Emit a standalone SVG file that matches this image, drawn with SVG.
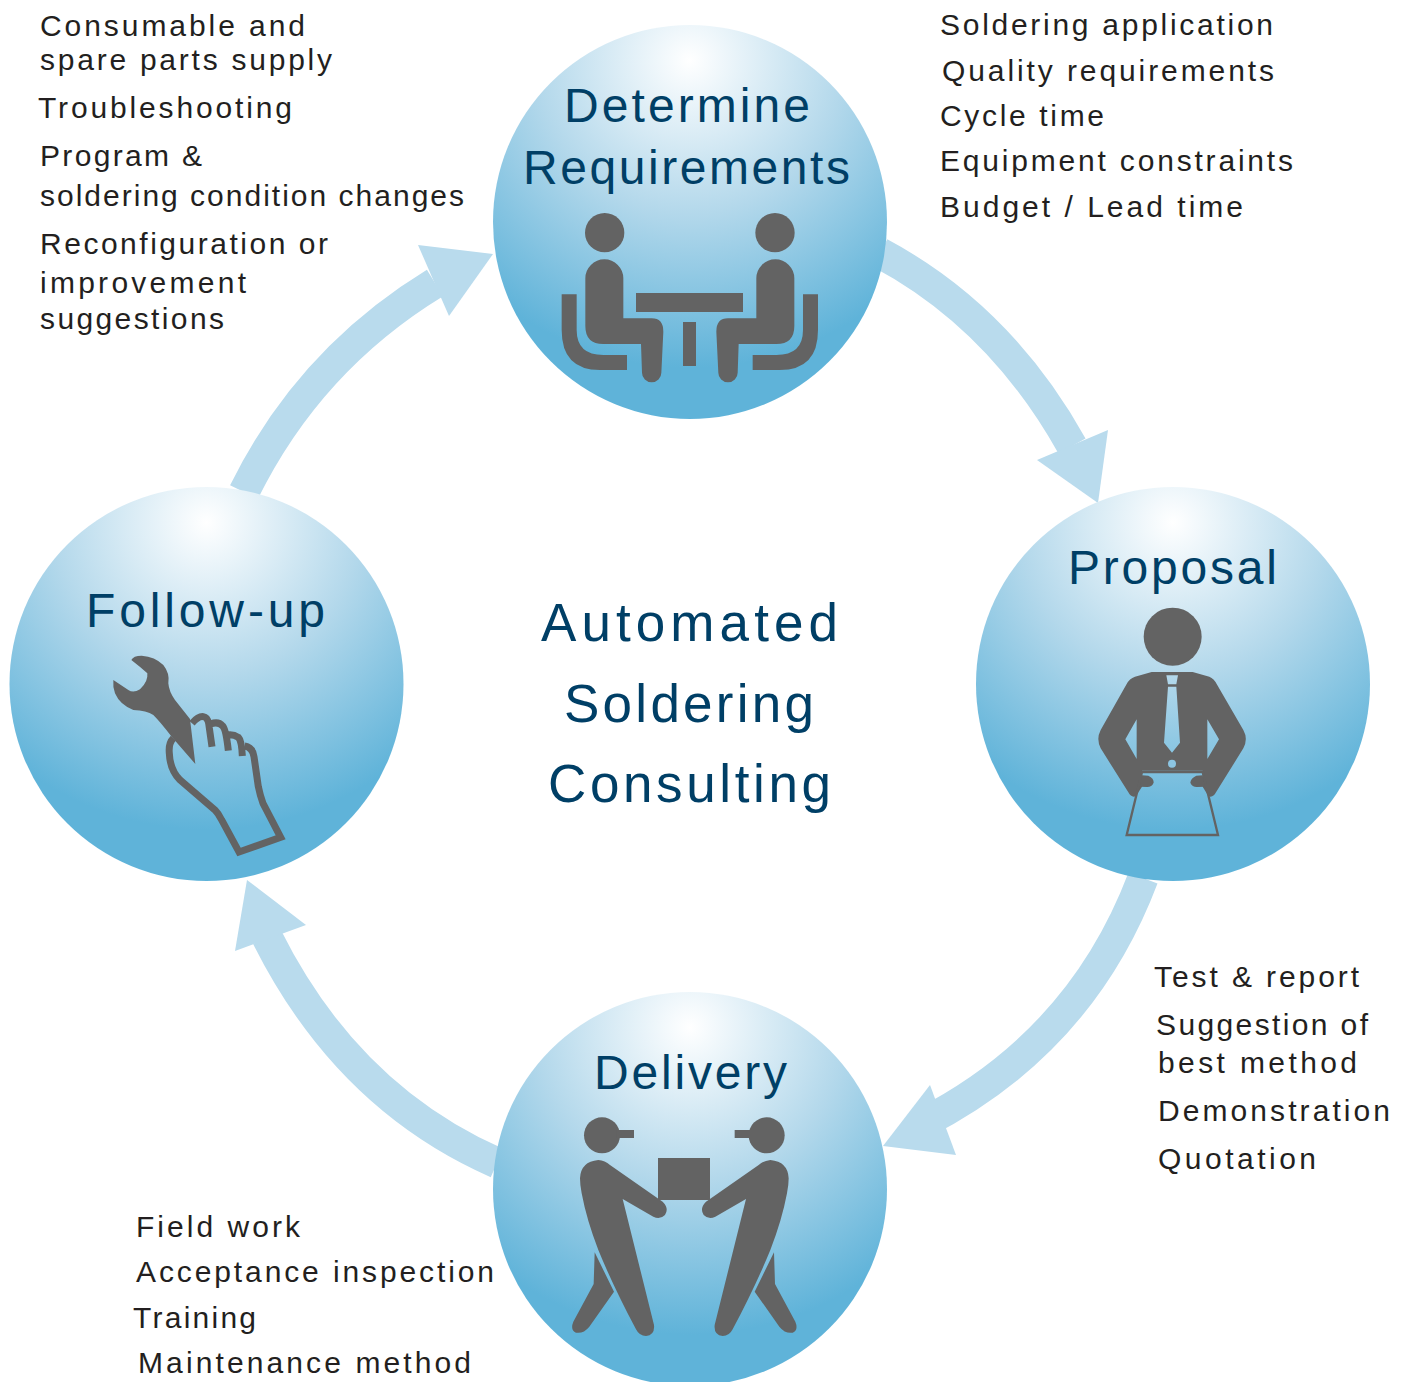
<svg xmlns="http://www.w3.org/2000/svg" xmlns:xlink="http://www.w3.org/1999/xlink" width="1406" height="1382" viewBox="0 0 1406 1382">
<style>
text{font-family:"Liberation Sans",Arial,sans-serif}
.s{font-size:30px;fill:#231f20}
.t{font-size:48px;fill:#003f66}
.c{font-size:53px;fill:#003f66}
.band{fill:none;stroke:#b9dbed;stroke-width:31}
.head{fill:#b9dbed}
.ball{fill:url(#g)}
.i{fill:#636363}
.l{fill:none;stroke:#636363}
</style>
<defs>
<radialGradient id="g" cx=".5" cy=".09" r=".78">
<stop offset="0" stop-color="#ffffff"/>
<stop offset=".5" stop-color="#b3d8eb"/>
<stop offset="1" stop-color="#5fb3d9"/>
</radialGradient>
</defs>
<rect width="1406" height="1382" fill="#fff"/>
<g id="connectors">
<path class="band" d="M880 253Q1000 317 1072 446"/><polygon class="head" points="1098,503 1108,430 1037,460"/>
<path class="band" d="M1143 878Q1081 1042 923 1123"/><polygon class="head" points="883,1146 930,1085 956,1155"/>
<path class="band" d="M497 1163Q347 1097 267 937"/><polygon class="head" points="247,880 306,925 235,951"/>
<path class="band" d="M244 492Q309 360 435 283"/><polygon class="head" points="493,254 418,245 449,316"/>
</g>
<g id="determine">
<circle class="ball" cx="690" cy="222" r="197"/>
<text class="t" x="564" y="122" textLength="246">Determine</text>
<text class="t" x="523" y="184" textLength="327">Requirements</text>
<g transform="translate(540 190) scale(.33333)">
<g id="sit" class="i"><circle cx="194" cy="128" r="59"/>
<path d="M136 265a57 57 0 0 1 114 0V385H335Q370 385 370 425L364 548A29 29 0 0 1 306 548L303 462H190Q136 462 136 408Z"/>
<path d="M65 313H110V420Q110 495 190 495H261V540H180Q65 540 65 420Z"/></g>
<use xlink:href="#sit" href="#sit" transform="translate(899 0) scale(-1 1)"/>
<rect class="i" x="288" y="309" width="321" height="57"/><rect class="i" x="429" y="396" width="39" height="132"/>
</g>
</g>
<g id="proposal">
<circle class="ball" cx="1173" cy="684" r="197"/>
<text class="t" x="1068" y="584" textLength="209">Proposal</text>
<g transform="translate(1080 590) scale(.33333)">
<circle class="i" cx="278" cy="140" r="87"/>
<path class="i" fill-rule="evenodd" d="M215 246H338L388 260Q402 266 410 282L490 420Q505 447 490 475L408 607Q398 625 385 618L368 590V542H186V590L168 618Q155 625 145 607L62 475Q48 447 62 420L140 282Q148 266 165 260ZM170 388L136 448 170 507ZM382 388L417 448 382 507ZM259 256H294L289 283H264ZM264 290H289L300 458 276 488 252 458Z"/>
<circle style="fill:#8cc5e2" cx="276" cy="521" r="12"/>
<path class="i" d="M186 556L205 557Q222 565 221 578Q215 592 200 591L180 590ZM368 556L349 557Q332 565 331 578Q337 592 352 591L374 590Z"/>
<path class="l" stroke-width="7" d="M186 546H368L414 735H140Z"/>
</g>
</g>
<g id="delivery">
<circle class="ball" cx="690" cy="1189" r="197"/>
<text class="t" x="594" y="1089" textLength="193">Delivery</text>
<g transform="translate(550 1100) scale(.33333)">
<g id="man" class="i"><circle cx="156" cy="106" r="54"/><rect x="200" y="90" width="52" height="24"/>
<path d="M90 235Q92 185 145 180Q165 182 180 195L338 305Q358 325 345 345Q330 360 310 350L218 297L312 675Q315 705 288 708Q268 708 258 688Q190 560 145 450Q110 360 95 280Q90 255 90 235Z"/>
<path d="M134 457L192 575L118 680Q100 702 78 698Q60 690 70 665L131 552Z"/></g>
<use xlink:href="#man" href="#man" transform="translate(806 0) scale(-1 1)"/>
<rect class="i" x="324" y="174" width="156" height="126"/>
</g>
</g>
<g id="followup">
<circle class="ball" cx="206.500" cy="684" r="197"/>
<text class="t" x="86" y="627" textLength="239">Follow-up</text>
<g transform="translate(90 640) scale(.33333)">
<path class="i" d="M124 60Q130 47 155 47Q195 50 220 75Q240 100 235 130Q237 155 255 180L300 237L316 372L245 290Q210 245 190 225Q170 212 130 210Q90 195 75 160Q68 140 70 120L115 150Q130 160 150 148Q175 125 172 100Q150 80 124 60Z"/>
<path class="l" stroke-width="21" d="M250 295Q235 310 238 340Q240 390 270 420L375 510Q385 520 395 540L447 636L572 592L519 490Q510 465 505 440L492 350Q488 322 464 318"/>
<path class="l" stroke-width="21" d="M306 250Q325 228 340 230Q352 232 356 250L366 320M362 252Q385 243 398 258Q408 268 415 332M412 285Q430 282 445 292Q455 302 457 348"/>
</g>
</g>
<g id="center">
<text class="c" x="541" y="641" textLength="297">Automated</text>
<text class="c" x="564" y="722" textLength="250">Soldering</text>
<text class="c" x="548" y="802" textLength="283">Consulting</text>
</g>
<g id="notes-followup">
<text class="s" x="40" y="36" textLength="265">Consumable and</text>
<text class="s" x="40" y="70" textLength="292">spare parts supply</text>
<text class="s" x="38" y="118" textLength="254">Troubleshooting</text>
<text class="s" x="40" y="166" textLength="162">Program &amp;</text>
<text class="s" x="40" y="206" textLength="424">soldering condition changes</text>
<text class="s" x="40" y="254" textLength="288">Reconfiguration or</text>
<text class="s" x="40" y="293" textLength="206">improvement</text>
<text class="s" x="40" y="329" textLength="184">suggestions</text>
</g>
<g id="notes-determine">
<text class="s" x="940" y="35" textLength="333">Soldering application</text>
<text class="s" x="942" y="81" textLength="332">Quality requirements</text>
<text class="s" x="940" y="126" textLength="164">Cycle time</text>
<text class="s" x="940" y="171" textLength="353">Equipment constraints</text>
<text class="s" x="940" y="217" textLength="303">Budget / Lead time</text>
</g>
<g id="notes-proposal">
<text class="s" x="1154" y="987" textLength="205">Test &amp; report</text>
<text class="s" x="1156" y="1035" textLength="212">Suggestion of</text>
<text class="s" x="1158" y="1073" textLength="199">best method</text>
<text class="s" x="1158" y="1121" textLength="232">Demonstration</text>
<text class="s" x="1158" y="1169" textLength="158">Quotation</text>
</g>
<g id="notes-delivery">
<text class="s" x="136" y="1237" textLength="164">Field work</text>
<text class="s" x="136" y="1282" textLength="358">Acceptance inspection</text>
<text class="s" x="133" y="1328" textLength="123">Training</text>
<text class="s" x="138" y="1373" textLength="333">Maintenance method</text>
</g>
</svg>
